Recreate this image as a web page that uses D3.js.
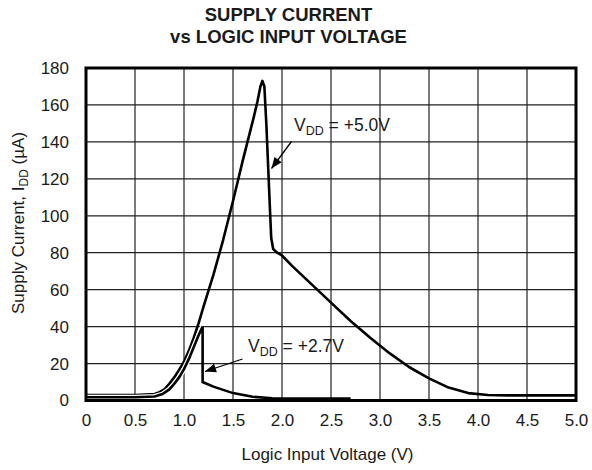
<!DOCTYPE html>
<html><head><meta charset="utf-8">
<script src="https://cdn.jsdelivr.net/npm/d3@7"></script>
<style>
body{margin:0;background:#fff;}
text{font-family:"Liberation Sans",Arial,Helvetica,sans-serif;fill:#1a1a1a;}
</style></head>
<body>
<svg id="chart" width="592" height="470"></svg>
<script>
// ---- data ----
const xTicks = [0,0.5,1.0,1.5,2.0,2.5,3.0,3.5,4.0,4.5,5.0];
const xTickLabels = ["0","0.5","1.0","1.5","2.0","2.5","3.0","3.5","4.0","4.5","5.0"];
const yTicks = [0,20,40,60,80,100,120,140,160,180];
const yTickLabels = ["0","20","40","60","80","100","120","140","160","180"];

const vdd50V = [0,0.5,0.7,0.75,0.8,0.85,0.9,0.95,1.0,1.05,1.1,1.15,1.2,1.3,1.4,1.5,1.6,1.71,1.75,1.78,1.80,1.82,1.84,1.86,1.88,1.89,1.91,1.95,2.0,2.1,2.2,2.3,2.5,2.7,2.9,3.1,3.3,3.5,3.7,3.9,4.1,4.3,5.0];
const vdd50I = [3,3,3.5,4.5,6,9,12.5,16.5,21,27,34,42,51,68,87,108,130,153,162,170,173,170,150,125,100,88,82,80,78.5,73,68,63,53,43,34,25.5,18,12,7,4,3,2.8,2.8];

const vdd27V = [0,0.5,0.7,0.78,0.85,0.9,0.95,1.0,1.05,1.1,1.15,1.19,1.19,1.3,1.5,1.7,1.9,2.1,2.7];
const vdd27I = [1.8,1.8,2.2,3.5,6,9,12.5,17,22.5,29,35.5,40,10,7.5,4,2,1.2,1,1];

const titleLines = ["SUPPLY CURRENT","vs LOGIC INPUT VOLTAGE"];

// ---- layout ----
const svg = d3.select("#chart");
const L = 86, R = 576, T = 68, B = 400.5;
const x = d3.scaleLinear().domain([0,5]).range([L,R]);
const y = d3.scaleLinear().domain([0,180]).range([B,T]);

// title
svg.append("g").selectAll("text").data(titleLines).join("text")
  .attr("x",288.5).attr("y",(d,i)=>20.5+i*22)
  .attr("text-anchor","middle").attr("font-size","18.5px").attr("font-weight","bold")
  .text(d=>d);

// gridlines
const grid = svg.append("g");
grid.selectAll("line.v").data(xTicks.slice(1,-1)).join("line")
  .attr("x1",d=>x(d)).attr("x2",d=>x(d)).attr("y1",T).attr("y2",B)
  .attr("stroke","#222").attr("stroke-width",1.2);
grid.selectAll("line.h").data(yTicks.slice(1,-1)).join("line")
  .attr("y1",d=>y(d)).attr("y2",d=>y(d)).attr("x1",L).attr("x2",R)
  .attr("stroke","#222").attr("stroke-width",1.2);

// axes labels via d3 axes (no domain/ticks lines)
const xAxis = svg.append("g").attr("transform",`translate(0,${B})`)
  .call(d3.axisBottom(x).tickValues(xTicks).tickFormat((d,i)=>xTickLabels[i]).tickSize(0).tickPadding(13));
xAxis.select(".domain").remove();
xAxis.selectAll("text").attr("font-size","17px").attr("fill","#1a1a1a")
  .style("font-family","'Liberation Sans',Arial,sans-serif");

const yAxis = svg.append("g").attr("transform",`translate(69,0)`)
  .call(d3.axisLeft(y).tickValues(yTicks).tickFormat((d,i)=>yTickLabels[i]).tickSize(0).tickPadding(0));
yAxis.select(".domain").remove();
yAxis.selectAll("text").attr("font-size","17px").attr("fill","#1a1a1a")
  .style("font-family","'Liberation Sans',Arial,sans-serif");

// axis titles
svg.append("text").attr("x",327.5).attr("y",460).attr("text-anchor","middle")
  .attr("font-size","17px").text("Logic Input Voltage (V)");

const yt = svg.append("text").attr("transform","translate(24,223) rotate(-90)")
  .attr("text-anchor","middle").attr("font-size","17px");
yt.append("tspan").text("Supply Current, I");
yt.append("tspan").attr("font-size","12px").attr("dy",4).text("DD");
yt.append("tspan").attr("dy",-4).text(" (\u00B5A)");

// curves
const line = d3.line().x(d=>x(d[0])).y(d=>y(d[1]));
const d50 = vdd50V.map((v,i)=>[v,vdd50I[i]]);
const d27 = vdd27V.map((v,i)=>[v,vdd27I[i]]);
svg.append("path").attr("d",line(d50)).attr("fill","none")
  .attr("stroke","#000").attr("stroke-width",2.6).attr("stroke-linejoin","round");
svg.append("path").attr("d",line(d27.slice(0,12))).attr("fill","none")
  .attr("stroke","#fff").attr("stroke-width",5).attr("stroke-linejoin","round");
svg.append("path").attr("d",line(d27)).attr("fill","none")
  .attr("stroke","#000").attr("stroke-width",2.6).attr("stroke-linejoin","miter");

// frame
svg.append("rect").attr("x",L).attr("y",T).attr("width",R-L).attr("height",B-T)
  .attr("fill","none").attr("stroke","#000").attr("stroke-width",3);

// annotations
function label(tx,ty,val){
  const t = svg.append("text").attr("x",tx).attr("y",ty).attr("font-size","17.5px");
  t.append("tspan").text("V");
  t.append("tspan").attr("font-size","12.5px").attr("dy",4).text("DD");
  t.append("tspan").attr("dy",-4).text(" = " + val);
}
function arrow(x1,y1,x2,y2){
  svg.append("line").attr("x1",x1).attr("y1",y1).attr("x2",x2).attr("y2",y2)
    .attr("stroke","#000").attr("stroke-width",1.3);
  const a = Math.atan2(y2-y1,x2-x1), hl=11, hw=4.5;
  const bx = x2-hl*Math.cos(a), by = y2-hl*Math.sin(a);
  const px = -Math.sin(a)*hw, py = Math.cos(a)*hw;
  svg.append("path").attr("d",`M${x2},${y2}L${bx+px},${by+py}L${bx-px},${by-py}Z`).attr("fill","#000");
}
label(294,131,"+5.0V");
arrow(291.5,141.5,271.5,168.5);
label(248,351.5,"+2.7V");
arrow(242.5,359,205,371.5);
</script>
</body></html>
